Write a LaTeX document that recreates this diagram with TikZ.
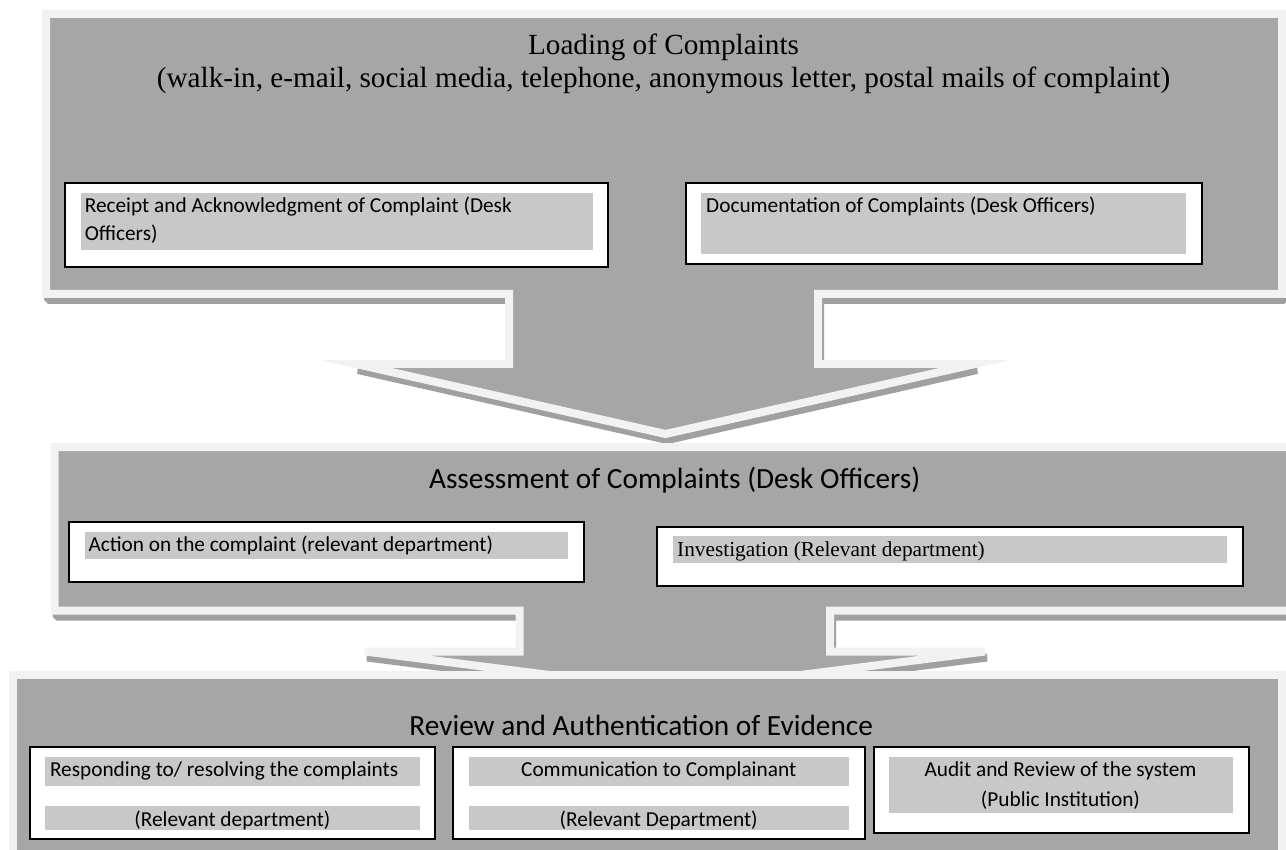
\documentclass[tikz,border=0pt]{standalone}
\usepackage{fontspec}
\newfontfamily\serifA{Liberation Serif}
\newfontfamily\sansA{Carlito}
\definecolor{cfill}{HTML}{A6A6A6}
\definecolor{cline}{HTML}{F2F2F2}
\definecolor{cshadow}{HTML}{A0A0A0}
\definecolor{cgray}{HTML}{C8C8C8}
\tikzset{
  panel/.style={fill=cfill, draw=cline, line width=8pt, line join=miter},
  panelshadow/.style={fill=cshadow, draw=cshadow, line width=8pt, line join=bevel, shift={(2,6)}},
  wbox/.style={fill=white, draw=black, line width=2pt},
  gbox/.style={fill=cgray},
  bigserif/.style={font=\serifA\fontsize{29.2}{33}\selectfont, inner sep=0pt, anchor=base},
  bigsans/.style={font=\sansA\fontsize{29.3}{34}\selectfont, inner sep=0pt, anchor=base},
  smsans/.style={font=\sansA\fontsize{21.3}{27.7}\selectfont, inner sep=0pt, anchor=base west},
  smsansc/.style={font=\sansA\fontsize{21.3}{27.7}\selectfont, inner sep=0pt, anchor=base},
  smserif/.style={font=\serifA\fontsize{21.3}{26}\selectfont, inner sep=0pt, anchor=base west}
}
\def\shapeone{(46,14) -- (1282,14) -- (1282,294) -- (818,294) -- (818,364) -- (975,364) -- (665.5,434) -- (356,364) -- (509,364) -- (509,294) -- (46,294) -- cycle}
\def\shapetwo{(54.5,447) -- (1300,447) -- (1300,610.5) -- (830,610.5) -- (830,651.5) -- (985,651.5) -- (675,691) -- (365,651.5) -- (519.5,651.5) -- (519.5,610.5) -- (54.5,610.5) -- cycle}
\begin{document}
\begin{tikzpicture}[x=1pt,y=-1pt]
\useasboundingbox (0,0) rectangle (1286,850);
\fill[white] (0,0) rectangle (1286,850);
% panel 1 with arrow
\path[panelshadow] \shapeone;
\path[panel] \shapeone;
% panel 2 with arrow
\path[panelshadow] \shapetwo;
\path[panel] \shapetwo;
% panel 3
\path[panel] (12.8,675) rectangle (1282,856);

% panel 1 content
\node[bigserif] (t1a) at (663.5,55) {Loading of Complaints};
\node[bigserif] (t1b) at (663.5,88) {(walk-in, e-mail, social media, telephone, anonymous letter, postal mails of complaint)};
\path[wbox] (64.5,182.7) rectangle (607.7,267);
\path[gbox] (81,192.7) rectangle (592.5,250);
\node[smsans] (r1) at (84.6,213) {Receipt and Acknowledgment of Complaint (Desk};
\node[smsans] (r2) at (84.6,240.7) {Officers)};
\path[wbox] (685.5,182.7) rectangle (1201.8,264);
\path[gbox] (701,192.7) rectangle (1186,254);
\node[smsans] (d1) at (706,213) {Documentation of Complaints (Desk Officers)};

% panel 2 content
\node[bigsans] (t2) at (674.7,488.3) {Assessment of Complaints (Desk Officers)};
\path[wbox] (68.6,521.7) rectangle (583.6,582.3);
\path[gbox] (85,532.3) rectangle (568,559.3);
\node[smsans] (a1) at (88.3,551.7) {Action on the complaint (relevant department)};
\path[wbox] (656.7,526.7) rectangle (1242.6,585.7);
\path[gbox] (673,536) rectangle (1227,562.7);
\node[smserif] (i1) at (677,556) {Investigation (Relevant department)};

% panel 3 content
\node[bigsans] (t3) at (641.2,735) {Review and Authentication of Evidence};
\path[wbox] (30,747) rectangle (435.2,839);
\path[gbox] (44.8,756.7) rectangle (420,786);
\path[gbox] (44.8,806) rectangle (420,830);
\node[smsans] (ra) at (49.8,776.7) {Responding to/ resolving the complaints};
\node[smsansc] (rb) at (232.4,826.7) {(Relevant department)};
\path[wbox] (453,747) rectangle (864.8,839);
\path[gbox] (468.5,756.7) rectangle (849,786);
\path[gbox] (468.5,806) rectangle (849,830);
\node[smsansc] (ca) at (658.7,776.7) {Communication to Complainant};
\node[smsansc] (cb) at (658.7,826.7) {(Relevant Department)};
\path[wbox] (873.8,747) rectangle (1248.8,833);
\path[gbox] (888.5,756.7) rectangle (1232.5,812.7);
\node[smsansc] (aa) at (1060.5,776.7) {Audit and Review of the system};
\node[smsansc] (ab) at (1060.5,806.7) {(Public Institution)};
\end{tikzpicture}
\end{document}
